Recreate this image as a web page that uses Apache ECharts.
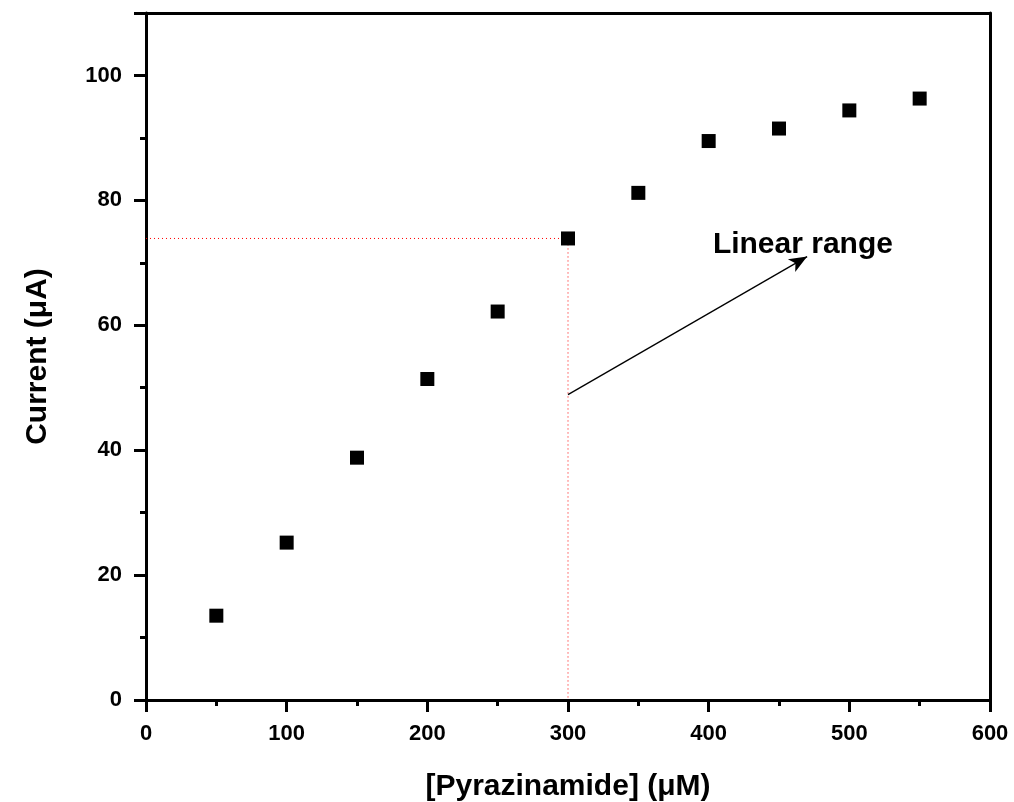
<!DOCTYPE html>
<html>
<head>
<meta charset="utf-8">
<script src="https://cdn.jsdelivr.net/npm/echarts@6/dist/echarts.min.js"></script>
<style>
  html, body { margin: 0; padding: 0; background: #fff; }
  #chart { width: 1014px; height: 802px; }
</style>
</head>
<body>
<div id="chart"></div>
<script>
// Pyrazinamide concentration (µM) and measured peak current (µA)
const concentrations = [50, 100, 150, 200, 250, 300, 350, 400, 450, 500, 550];
const currents = [13.5, 25.2, 38.8, 51.4, 62.2, 73.9, 81.2, 89.5, 91.5, 94.4, 96.3];

// Upper end of the linear range (guide lines run from the axes to this point)
const linearEnd = [300, 73.9];
const guideX = [0, linearEnd[0], linearEnd[0]];
const guideY = [linearEnd[1], linearEnd[1], 0];

// Annotation arrow and its text
const arrowFrom = [300, 48.9];
const arrowTo = [470, 71.0];
const annotationText = 'Linear range';
const annotationAt = [467, 72.9];

const FONT = 'Liberation Sans, Arial, sans-serif';

const chart = echarts.init(document.getElementById('chart'));

const frameAxis = {
  axisLine: { show: true, onZero: false, lineStyle: { color: '#000', width: 3 } },
  axisTick: { show: false },
  axisLabel: { show: false },
  splitLine: { show: false }
};

const arrowStyle = { color: '#000', type: 'solid', width: 1.3 };

chart.setOption({
  animation: false,
  backgroundColor: '#fff',
  grid: { left: 146, right: 24, top: 13, bottom: 102, outerBoundsMode: 'none', containLabel: false },
  xAxis: [
    {
      type: 'value', min: 0, max: 600, interval: 100, position: 'bottom',
      name: '[Pyrazinamide] (μM)', nameLocation: 'middle', nameGap: 72,
      nameTextStyle: { fontFamily: FONT, fontWeight: 'bold', fontSize: 30, color: '#000' },
      axisLine: { show: true, onZero: false, lineStyle: { color: '#000', width: 3 } },
      axisTick: { show: true, inside: false, length: 12, lineStyle: { color: '#000', width: 3 } },
      minorTick: { show: true, splitNumber: 2, length: 6, lineStyle: { color: '#000', width: 3 } },
      axisLabel: { fontFamily: FONT, fontWeight: 'bold', fontSize: 22, color: '#000', margin: 23 },
      splitLine: { show: false }
    },
    Object.assign({ type: 'value', min: 0, max: 600, position: 'top' }, frameAxis)
  ],
  yAxis: [
    {
      type: 'value', min: 0, max: 110, interval: 20, position: 'left',
      name: 'Current (μA)', nameLocation: 'middle', nameGap: 93, nameRotate: 90,
      nameTextStyle: { fontFamily: FONT, fontWeight: 'bold', fontSize: 30, color: '#000' },
      axisLine: { show: true, onZero: false, lineStyle: { color: '#000', width: 3 } },
      axisTick: { show: true, inside: false, length: 12, lineStyle: { color: '#000', width: 3 } },
      minorTick: { show: true, splitNumber: 2, length: 6, lineStyle: { color: '#000', width: 3 } },
      axisLabel: { fontFamily: FONT, fontWeight: 'bold', fontSize: 22, color: '#000', margin: 24, showMaxLabel: false },
      splitLine: { show: false }
    },
    Object.assign({ type: 'value', min: 0, max: 110, position: 'right' }, frameAxis)
  ],
  series: [
    {
      // dotted guides marking the end of the linear range
      type: 'line',
      data: guideX.map((x, i) => [x, guideY[i]]),
      symbol: 'none',
      silent: true,
      lineStyle: { color: '#ff0000', type: [1, 3], width: 1 },
      z: 3
    },
    {
      type: 'scatter',
      symbol: 'rect',
      symbolSize: 14,
      itemStyle: { color: '#000', opacity: 1 },
      data: concentrations.map((c, i) => [c, currents[i]]),
      z: 5,
      markLine: {
        silent: true,
        symbol: ['none', 'arrow'],
        symbolSize: [11, 18],
        label: { show: false },
        lineStyle: arrowStyle,
        data: [[{ coord: arrowFrom }, { coord: arrowTo }]]
      },
      markPoint: {
        silent: true,
        symbol: 'circle',
        symbolSize: 0,
        data: [{ coord: annotationAt, value: annotationText }],
        label: {
          show: true, position: 'inside', formatter: annotationText,
          fontFamily: FONT, fontWeight: 'bold', fontSize: 30, color: '#000'
        }
      }
    }
  ]
});
</script>
</body>
</html>
